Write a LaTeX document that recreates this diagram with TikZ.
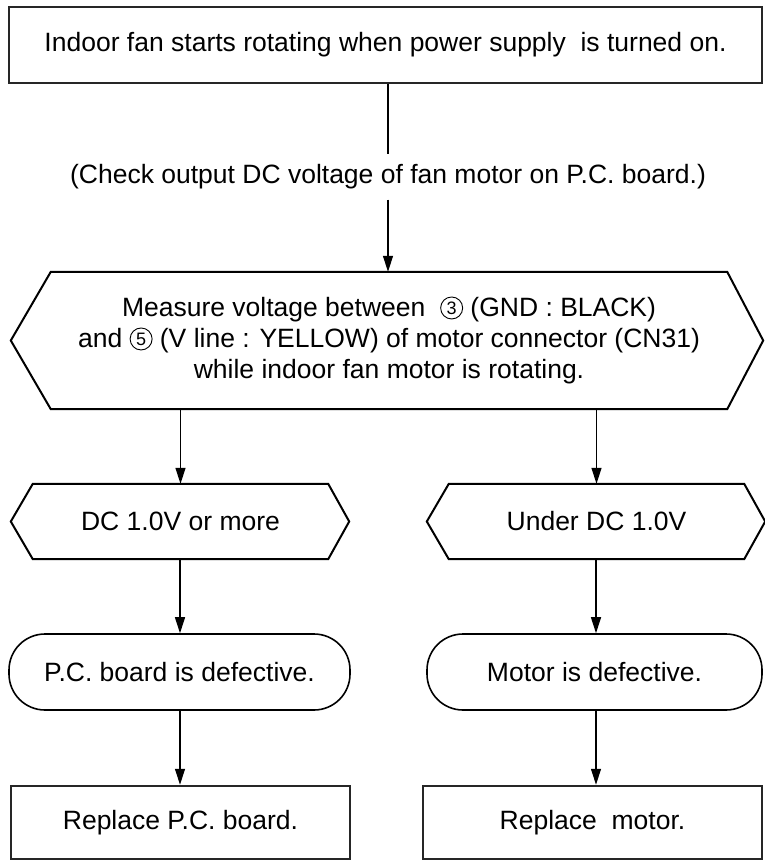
\documentclass[tikz,border=0pt]{standalone}
\usepackage{fontspec}
\setmainfont{Liberation Sans}
\usepackage{tikz}
\usetikzlibrary{arrows.meta, positioning, calc}
\newcommand{\circnum}[1]{\tikz[baseline={([yshift=-9pt]c.center)}]\node[draw, circle, line width=0.9pt, inner sep=0pt,
  minimum size=22pt, font=\fontsize{18}{18}\selectfont] (c) {#1};}

\begin{document}
\begin{tikzpicture}[
  x=1pt, y=-1pt,
  font=\fontsize{26.5}{31}\selectfont,
  box/.style={draw, line width=2.5pt, draw=black!85, align=center, inner sep=0pt},
  hexa/.style={minimum height=75pt, minimum width=295pt, inner sep=0pt, align=center},
  hexline/.style={line width=2pt},
  stadium/.style={draw, line width=1.6pt, rounded corners=36pt, minimum height=76pt, inner sep=0pt},
  conn/.style={line width=1.2pt, -{Triangle[length=16pt,width=10pt]}}
]
  \useasboundingbox (0,0) rectangle (764,861);

  % start and check
  \node[box, minimum width=753pt, minimum height=76pt] (start) at (385.5,45) {Indoor fan starts rotating when power supply\ \ is turned on.};
  \node[inner sep=10pt] (check) at (388,177) {(Check output DC voltage of fan motor on P.C. board.)};

  % measuring step
  \node[hexa, minimum width=676pt, minimum height=137pt, font=\fontsize{26.5}{31}\selectfont] (meas) at (389,340.5)
    {Measure voltage between\ \ \circnum{3} (GND : BLACK)\\and \circnum{5} (V line : YELLOW) of motor connector (CN31)\\while indoor fan motor is rotating.};
  \draw[hexline] (meas.north west) -- (meas.north east) -- ([xshift=36pt]meas.east) -- (meas.south east)
    -- (meas.south west) -- ([xshift=-40pt]meas.west) -- cycle;

  % results
  \node[hexa] (dcok) at (180.5,521.5) {DC 1.0V or more};
  \node[hexa] (dcunder) at (596.5,521.5) {Under DC 1.0V};
  \foreach \n in {dcok, dcunder}
    \draw[hexline] (\n.north west) -- (\n.north east) -- ([xshift=21pt]\n.east) -- (\n.south east)
      -- (\n.south west) -- ([xshift=-22pt]\n.west) -- cycle;

  \node[stadium, minimum width=341pt] (pcbad) at (179.5,672) {P.C. board is defective.};
  \node[stadium, minimum width=335pt] (motorbad) at (594.5,672) {Motor is defective.};

  \node[box, minimum width=339pt, minimum height=73pt] (pcnew) at (180.5,822.5) {Replace P.C. board.};
  \node[box, minimum width=339pt, minimum height=73pt] (motornew) at (592.5,822.5) {Replace\ \ motor.};

  % connectors
  \draw[line width=1.2pt] (start.south -| check) -- (check);
  \draw[conn] (check) -- (check |- meas.north);
  \draw[conn] (meas.south -| dcok.north) -- (dcok.north);
  \draw[conn] (meas.south -| dcunder.north) -- (dcunder.north);
  \draw[conn] (dcok.south -| 180,0) -- (pcbad.north -| 180,0);
  \draw[conn] (dcunder.south -| 596,0) -- (motorbad.north -| 596,0);
  \draw[conn] (pcbad.south -| 180,0) -- (pcnew.north -| 180,0);
  \draw[conn] (motorbad.south -| 596,0) -- (motornew.north -| 596,0);
\end{tikzpicture}
\end{document}
